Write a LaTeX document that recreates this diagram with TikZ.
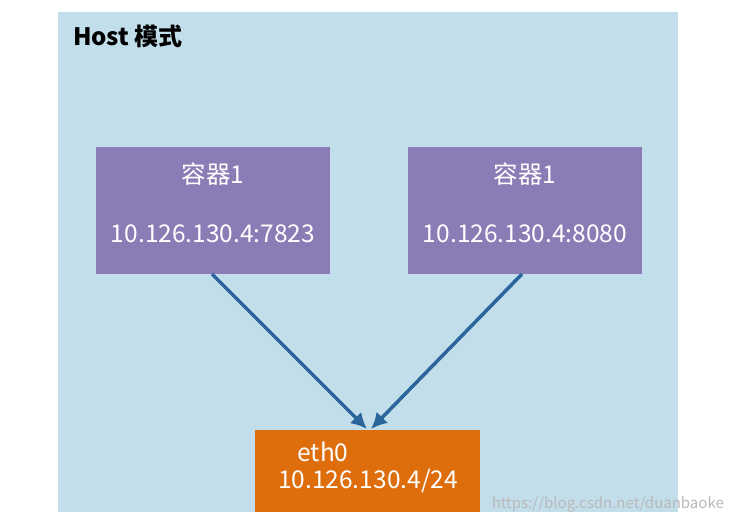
\documentclass[tikz,border=0pt]{standalone}
\usepackage{fontspec}
\setmainfont{Noto Sans CJK SC}
\usetikzlibrary{arrows.meta}
\definecolor{bg}{HTML}{C2DEEB}
\definecolor{purp}{HTML}{8C7CB6}
\definecolor{orng}{HTML}{DE6E0C}
\definecolor{arr}{HTML}{2B659B}
\tikzset{box/.style={fill=purp,draw=none,minimum width=234pt,minimum height=127pt,anchor=north west},
 lbl/.style={text=white,font=\fontsize{24.5}{28}\selectfont},
 link/.style={draw=arr,line width=3.5pt,-{Latex[length=16pt,width=16pt]}}}
\begin{document}
\begin{tikzpicture}[x=1pt,y=-1pt]
\useasboundingbox (0,0) rectangle (734,522);
\fill[white] (0,0) rectangle (734,522);
\fill[bg] (58,12) rectangle (678,512);
\node[anchor=west,font=\fontsize{24}{28}\selectfont\bfseries,inner sep=0pt] (title) at (73,36) {Host 模式};
\node[box] (c1) at (96,147) {};
\node[box] (c2) at (408,147) {};
\node[lbl] (c1a) at (213,174) {容器1};
\node[lbl] (c1b) at (213,234) {10.126.130.4:7823};
\node[lbl] (c2a) at (525,174) {容器1};
\node[lbl] (c2b) at (525,234) {10.126.130.4:8080};
\node[fill=orng,minimum width=225pt,minimum height=82pt,anchor=north west] (eth) at (255,430) {};
\node[lbl] (e1) at (323,452) {eth0};
\node[lbl] (e2) at (368,481) {10.126.130.4/24};
\coordinate (s1) at (212,274);
\coordinate (s2) at (522,274);
\coordinate (t1) at (367,429);
\coordinate (t2) at (371,429);
\draw[link] (s1) -- (t1);
\draw[link] (s2) -- (t2);
\node[anchor=east,text=white!45!gray,font=\fontsize{15}{18}\selectfont,inner sep=0pt] (wm) at (724,504) {https://blog.csdn.net/duanbaoke};
\end{tikzpicture}
\end{document}
